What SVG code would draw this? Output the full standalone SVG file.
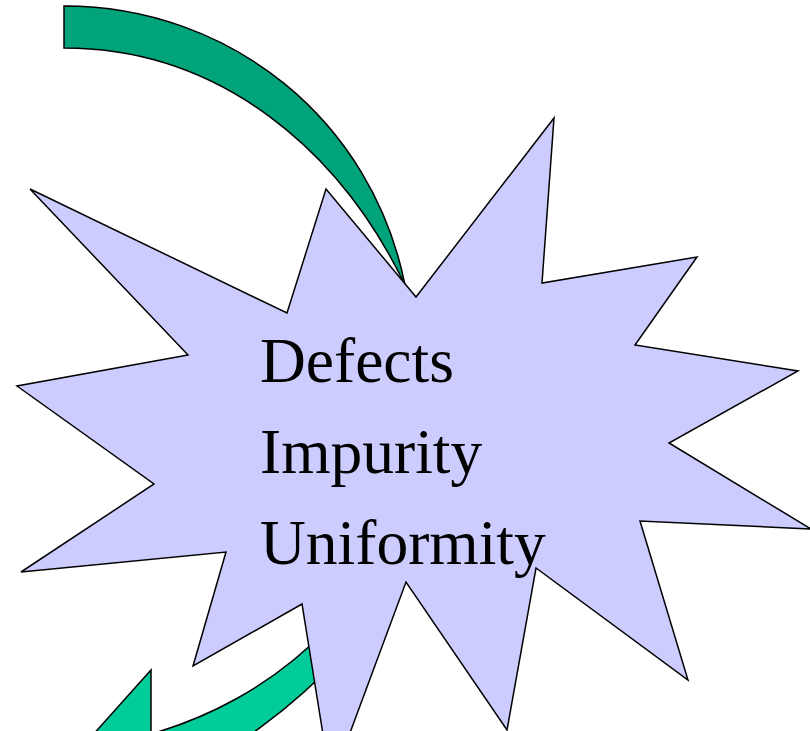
<svg xmlns="http://www.w3.org/2000/svg" width="810" height="731" viewBox="0 0 810 731">
<style>
.arrow{stroke:#000;stroke-width:1.5;stroke-linejoin:miter}
.star{fill:#CCCCFF;stroke:#000;stroke-width:1.5;stroke-linejoin:miter}
.lbl{font-family:"Liberation Serif","Times New Roman",serif;font-size:63.5px;fill:#000}
</style>
<rect width="810" height="731" fill="#fff"/>
<g id="connectors">
<path class="arrow" fill="#00A37A" d="M64,6 C230,6 372,120 405,285 C340,150 220,48 64,48 Z"/>
<path class="arrow" fill="#00CC99" d="M151,670 L151,734 C200,720 270,690 330,626 L345,652 C300,700 230,760 151,785 L151,800 L30,805 Z"/>
</g>
<g id="star">
<polygon class="star" points="30,189 287,313 326,189 416,297 554,118 542,283 697,257 635,345 798,371 669,443 811,529 640,521 688,680 536,568 507,730 406,582 331,784 302,604 193,666 226,552 21,572 154,484 17,386 188,355"/>
<text class="lbl" x="260" y="382">Defects</text>
<text class="lbl" x="260" y="473">Impurity</text>
<text class="lbl" x="260" y="564">Uniformity</text>
</g>
</svg>
